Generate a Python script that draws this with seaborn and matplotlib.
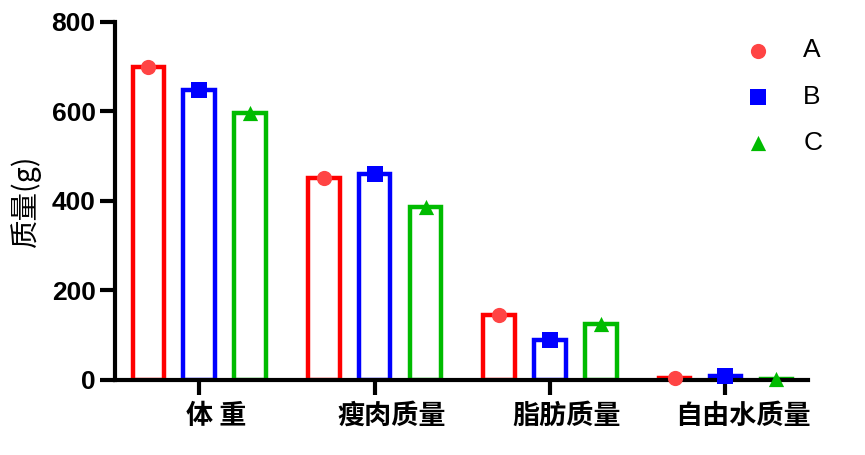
import pandas as pd
import seaborn as sns
import matplotlib.pyplot as plt
from matplotlib.transforms import ScaledTranslation

categories = ['体 重', '瘦肉质量', '脂肪质量', '自由水质量']
groups = ['A', 'B', 'C']
values_A = [700, 452, 146, 4]
values_B = [648, 459, 89, 8]
values_C = [597, 387, 125, 2]

df = pd.DataFrame({
    'cat': categories * 3,
    'group': ['A'] * 4 + ['B'] * 4 + ['C'] * 4,
    'val': values_A + values_B + values_C,
})

bar_colors = ['#FF0000', '#0000FF', '#00BB00']
mark_colors = ['#FF4444', '#0000FF', '#00BB00']
markers = ['o', 's', '^']

sns.set_style('ticks')
plt.rcParams['font.family'] = ['Noto Sans CJK SC', 'DejaVu Sans']
plt.rcParams['text.color'] = 'black'
plt.rcParams['axes.labelcolor'] = 'black'
plt.rcParams['xtick.color'] = 'black'
plt.rcParams['ytick.color'] = 'black'

fig = plt.figure(figsize=(8.65, 4.55), dpi=100)
ax = fig.add_axes([0.133, 0.165, 0.801, 0.787])

sns.barplot(data=df, x='cat', y='val', hue='group', order=categories,
            hue_order=groups, palette=bar_colors, fill=False, width=0.87,
            gap=0.38, linewidth=3.2, err_kws={'linewidth': 0}, legend=False, ax=ax)

for cont, c, m, g in zip(ax.containers, mark_colors, markers, groups):
    xs = [b.get_x() + b.get_width() / 2 for b in cont]
    ys = [b.get_height() for b in cont]
    ax.scatter(xs, ys, marker=m, s=120, color=c, zorder=5, clip_on=False,
               linewidths=0, label=g)

ax.set_xlim(-0.48, 3.47)
ax.set_ylim(0, 800)
ax.set_yticks([0, 200, 400, 600, 800])
ax.set_xlabel('')
ax.set_ylabel('质量(g)', fontsize=20.5, fontweight='medium', labelpad=8)

for s in ['top', 'right']:
    ax.spines[s].set_visible(False)
for s in ['left', 'bottom']:
    ax.spines[s].set_linewidth(3)
    ax.spines[s].set_color('black')
    ax.spines[s].set_zorder(4)

ax.tick_params(axis='both', length=11, width=3, color='black', direction='out',
               left=True, bottom=True)
ax.tick_params(axis='y', labelsize=19, pad=3)
ax.tick_params(axis='x', labelsize=19.5, pad=5)
for t in ax.get_yticklabels():
    t.set_fontweight('bold')
    t.set_family(['Liberation Sans', 'DejaVu Sans'])
shift = ScaledTranslation(17 / 100, 0, fig.dpi_scale_trans)
for t in ax.get_xticklabels():
    t.set_fontweight('bold')
    t.set_transform(t.get_transform() + shift)

ax.legend(loc='upper right', bbox_to_anchor=(1.055, 1.02), frameon=False,
          prop={'family': ['Liberation Sans'], 'size': 19},
          handletextpad=0.7, labelspacing=0.85, markerscale=1.0)

fig.savefig('out.png', dpi=100)
